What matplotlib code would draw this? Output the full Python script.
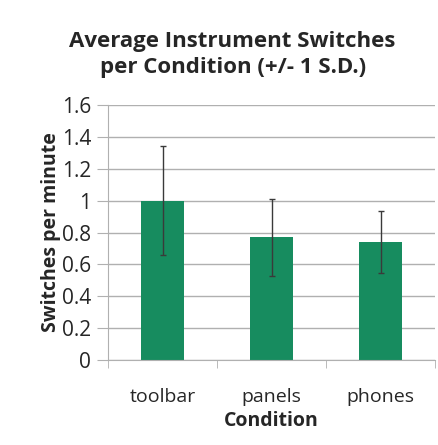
import matplotlib.pyplot as plt

conditions = ['toolbar', 'panels', 'phones']
means = [1.0, 0.77, 0.74]
sds = [0.34, 0.24, 0.195]
yticks = [0, 0.2, 0.4, 0.6, 0.8, 1, 1.2, 1.4, 1.6]
ytick_labels = ['0', '0.2', '0.4', '0.6', '0.8', '1', '1.2', '1.4', '1.6']

plt.rcParams['font.family'] = ['Open Sans', 'DejaVu Sans']
text_color = '#262626'
grid_color = '#b0b0b0'

fig = plt.figure(figsize=(4.39, 4.45), dpi=100)
ax = fig.add_axes([0.246, 0.191, 0.745, 0.573])

x = range(len(conditions))
ax.bar(x, means, width=0.4, color='#178c5f', zorder=2)
ax.errorbar(x, means, yerr=sds, fmt='none', ecolor='#3a3a3a', elinewidth=1,
            capsize=2.5, capthick=1, zorder=3)

ax.set_xlim(-0.5, 2.5)
ax.set_ylim(0, 1.6)
ax.set_yticks(yticks)
ax.set_yticklabels(ytick_labels, fontsize=15, color=text_color)
ax.set_xticks(list(x))
ax.set_xticklabels(conditions, fontsize=14, color=text_color)
ax.tick_params(axis='x', length=0, pad=20)
ax.tick_params(axis='y', length=8, color=grid_color, pad=4)
ax.set_xticks([-0.5, 0.5, 1.5, 2.5], minor=True)
ax.tick_params(axis='x', which='minor', length=6, color=grid_color)

ax.yaxis.grid(True, color=grid_color, linewidth=1, zorder=0)
ax.set_axisbelow(True)
for side in ['top', 'right']:
    ax.spines[side].set_visible(False)
ax.spines['left'].set_color(grid_color)
ax.spines['bottom'].set_color(grid_color)

ax.set_xlabel('Condition', fontsize=14, fontweight='bold', color=text_color, labelpad=4)
ax.set_ylabel('Switches per minute', fontsize=14, fontweight='bold', color=text_color, labelpad=1)
fig.suptitle('Average Instrument Switches\nper Condition (+/- 1 S.D.)', x=0.53, y=0.93,
             fontsize=16, fontweight='bold', color=text_color, linespacing=1.3)

fig.savefig('out.png', dpi=100)
